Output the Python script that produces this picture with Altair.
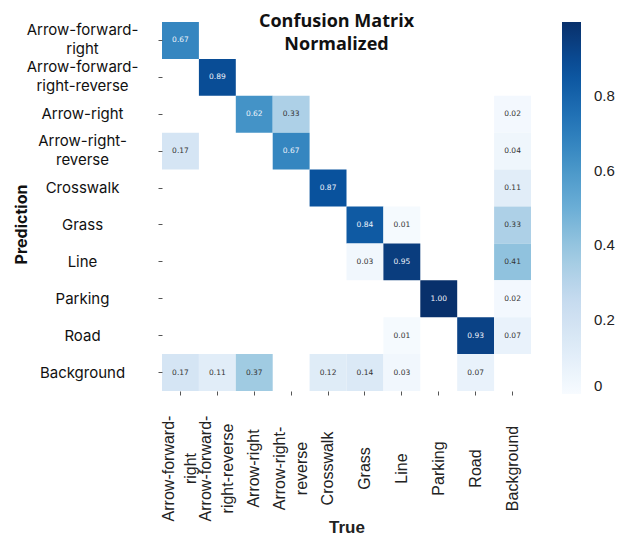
import altair as alt
import pandas as pd

categories = ["Arrow-forward-right", "Arrow-forward-right-reverse", "Arrow-right",
              "Arrow-right-reverse", "Crosswalk", "Grass", "Line", "Parking", "Road",
              "Background"]
x_labels = ["Arrow-forward-|right", "Arrow-forward-|right-reverse", "Arrow-right",
            "Arrow-right-|reverse", "Crosswalk", "Grass", "Line", "Parking", "Road",
            "Background"]
y_labels = ["Arrow-forward-|right", "Arrow-forward-|right-reverse", "Arrow-right",
            "Arrow-right-|reverse", "Crosswalk", "Grass", "Line", "Parking", "Road",
            "Background"]

# rows = Prediction, columns = True (None = empty cell)
matrix = [
    [0.67, None, None, None, None, None, None, None, None, None],
    [None, 0.89, None, None, None, None, None, None, None, None],
    [None, None, 0.62, 0.33, None, None, None, None, None, 0.02],
    [0.17, None, None, 0.67, None, None, None, None, None, 0.04],
    [None, None, None, None, 0.87, None, None, None, None, 0.11],
    [None, None, None, None, None, 0.84, 0.01, None, None, 0.33],
    [None, None, None, None, None, 0.03, 0.95, None, None, 0.41],
    [None, None, None, None, None, None, None, 1.00, None, 0.02],
    [None, None, None, None, None, None, 0.01, None, 0.93, 0.07],
    [0.17, 0.11, 0.37, None, 0.12, 0.14, 0.03, None, 0.07, None],
]

blues = ["#f7fbff", "#deebf7", "#c6dbef", "#9ecae1", "#6baed6",
         "#4292c6", "#2171b5", "#08519c", "#08306b"]

rows = []
for i, pred in enumerate(categories):
    for j, true in enumerate(categories):
        v = matrix[i][j]
        if v is not None:
            rows.append({"Prediction": pred, "True": true, "value": v})
df = pd.DataFrame(rows)


def label_expr(labels):
    expr = "datum.label"
    for c, l in reversed(list(zip(categories, labels))):
        expr = f"datum.value == '{c}' ? split('{l}', '|') : " + expr
    return expr


def two_line_test(labels):
    names = [c for c, l in zip(categories, labels) if "|" in l]
    return " || ".join(f"datum.value == '{c}'" for c in names)


x_enc = alt.X("True:N", sort=categories,
              scale=alt.Scale(domain=categories, paddingInner=0, paddingOuter=0),
              axis=alt.Axis(title="True", labelExpr=label_expr(x_labels), labelAngle=270,
                            labelAlign="center", labelBaseline="middle", labelPadding=73,
                            labelOffset=alt.condition(two_line_test(x_labels), alt.value(-11), alt.value(0)),
                            labelLineHeight=22, labelFontSize=16, labelFont="Liberation Sans",
                            labelColor="#222", tickSize=4, tickColor="#555", domain=False,
                            titleFont="Liberation Sans", titleFontSize=17, titleFontWeight="bold",
                            titleColor="#222", titleY=128, titleBaseline="top"))
y_enc = alt.Y("Prediction:N", sort=categories,
              scale=alt.Scale(domain=categories, paddingInner=0, paddingOuter=0),
              axis=alt.Axis(title="Prediction", labelExpr=label_expr(y_labels),
                            labelAlign="center", labelBaseline="middle", labelPadding=76,
                            labelOffset=alt.condition(two_line_test(y_labels), alt.value(-10), alt.value(0)),
                            labelLineHeight=19, labelFontSize=15, labelFont="Inter",
                            labelColor="#111", tickSize=4, tickColor="#555", domain=False,
                            titleFont="Inter", titleFontSize=16, titleFontWeight="bold",
                            titleColor="#111", titleX=-133, titleY=202, titleAngle=270,
                            titleBaseline="bottom", titleAlign="center"))

base = alt.Chart(df).encode(x=x_enc, y=y_enc)

rects = base.mark_rect().encode(
    color=alt.Color("value:Q",
                    scale=alt.Scale(domain=[0, 1], range=blues, type="linear"),
                    legend=alt.Legend(title=None, orient="right", direction="vertical",
                                      gradientLength=372, gradientThickness=19, offset=31,
                                      values=[0, 0.2, 0.4, 0.6, 0.8], format=".1~f",
                                      labelFontSize=15, labelFont="Liberation Sans",
                                      labelColor="#222", labelOffset=13,
                                      gradientStrokeWidth=0))
)

texts = base.mark_text(fontSize=7.5, font="DejaVu Sans").encode(
    text=alt.Text("value:Q", format=".2f"),
    color=alt.condition("datum.value > 0.5", alt.value("#eef3fb"), alt.value("#333333")),
)

chart = (rects + texts).properties(
    width=369, height=369,
    title=alt.Title(["Confusion Matrix", "Normalized"], fontSize=18, font="Open Sans",
                    fontWeight="bold", lineHeight=23, offset=-32, dx=-10, anchor="middle",
                    color="#111"),
    padding={"left": 5, "top": 5, "right": 5, "bottom": 0},
).configure_view(stroke=None)

chart.save("out.html", embed_options={"renderer": "svg", "actions": False})
